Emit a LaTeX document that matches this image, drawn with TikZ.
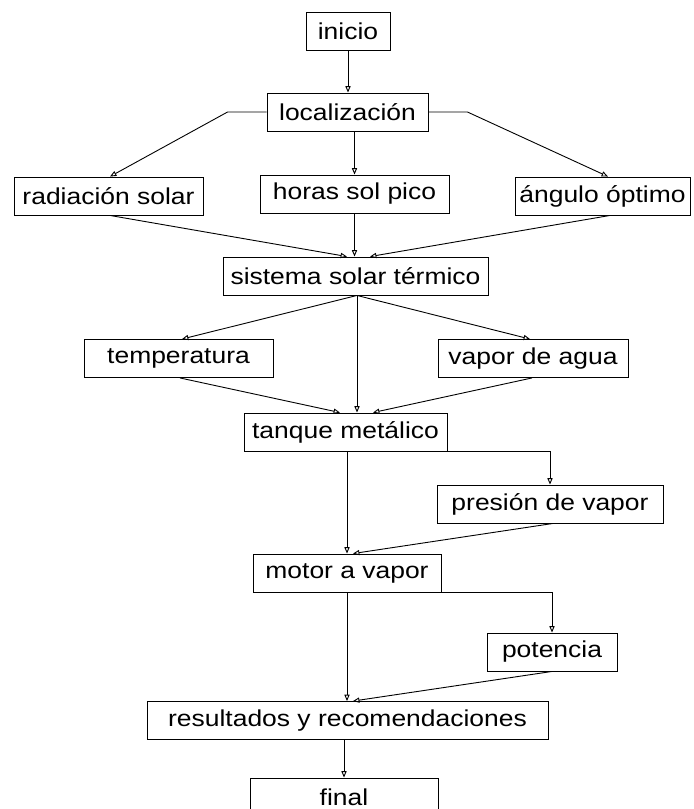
\documentclass[tikz,border=0pt]{standalone}
\usepackage{fontspec}
\setmainfont{Liberation Sans}[FakeStretch=1.15]
\usetikzlibrary{arrows.meta}

\begin{document}
\begin{tikzpicture}[x=0.5pt,y=-0.5pt,
    every node/.style={font=\fontsize{11.5}{13}\selectfont},
    caja/.style={draw, line width=0.45pt, inner sep=0pt, minimum height=19pt},
    flecha/.style={line width=0.45pt, -{Triangle[open,length=3.2pt,width=2.6pt]}}]
  \clip (0,0) rectangle (693,809);
  % inicio y localizacion
  \node[caja, minimum width=42pt] (inicio) at (348,31) {inicio};
  \node[caja, minimum width=80.5pt] (localizacion) at (347.5,112) {localización};
  % datos del sitio
  \node[caja, minimum width=94.5pt] (radiacion) at (108.5,196) {radiación solar};
  \node[caja, minimum width=94.5pt] (horas) at (354.5,194) {horas sol pico};
  \node[caja, minimum width=87.5pt] (angulo) at (602.5,196) {ángulo óptimo};
  % sistema
  \node[caja, minimum width=132.5pt] (sistema) at (355.5,276) {sistema solar térmico};
  \node[caja, minimum width=94.5pt] (temperatura) at (178.5,358.5) {temperatura};
  \node[caja, minimum width=95pt] (vapor) at (533,358.5) {vapor de agua};
  % tanque y motor
  \node[caja, minimum width=101.5pt] (tanque) at (345.5,432) {tanque metálico};
  \node[caja, minimum width=113pt] (presion) at (550,504) {presión de vapor};
  \node[caja, minimum width=94pt] (motor) at (347,573) {motor a vapor};
  \node[caja, minimum width=65pt] (potencia) at (552,652) {potencia};
  % cierre
  \node[caja, minimum width=200.5pt] (resultados) at (347.5,720.5) {resultados y recomendaciones};
  \node[caja, minimum width=94pt] (final) at (344,797) {final};

  % conexiones
  \draw[flecha] (inicio.south) -- (inicio.south |- localizacion.north);
  \draw[flecha] (localizacion.west) -- ++(-39,0) -- ([xshift=0.75pt]radiacion.north);
  \draw[flecha] (horas.north |- localizacion.south) -- (horas.north);
  \draw[flecha] (localizacion.east) -- ++(39,0) -- ([xshift=2.75pt]angulo.north);
  \draw[flecha] ([xshift=0.75pt]radiacion.south) -- ([xshift=-4.25pt]sistema.north);
  \draw[flecha] (horas.south) -- (horas.south |- sistema.north);
  \draw[flecha] ([xshift=3.75pt]angulo.south) -- ([xshift=7.25pt]sistema.north);
  \draw[flecha] ([xshift=0.75pt]sistema.south) -- ([xshift=1.75pt]temperatura.north);
  \draw[flecha] ([xshift=0.75pt]sistema.south) -- ([xshift=-1.5pt]vapor.north);
  \draw[flecha] ([xshift=0.75pt]sistema.south) -- ([xshift=0.75pt]sistema.south |- tanque.north);
  \draw[flecha] ([xshift=0.75pt]temperatura.south) -- ([xshift=-2.75pt]tanque.north);
  \draw[flecha] ([xshift=-0.5pt]vapor.south) -- ([xshift=13.75pt]tanque.north);
  \draw[flecha] (motor.north |- tanque.south) -- (motor.north);
  \draw[flecha] (tanque.south) -| (presion.north);
  \draw[flecha] ([xshift=1.5pt]presion.south) -- ([xshift=3pt]motor.north);
  \draw[flecha] (motor.south) -- (motor.south |- resultados.north);
  \draw[flecha] (motor.south) -| (potencia.north);
  \draw[flecha] (potencia.south) -- ([xshift=2.75pt]resultados.north);
  \draw[flecha] (final.north |- resultados.south) -- (final.north);
\end{tikzpicture}
\end{document}
